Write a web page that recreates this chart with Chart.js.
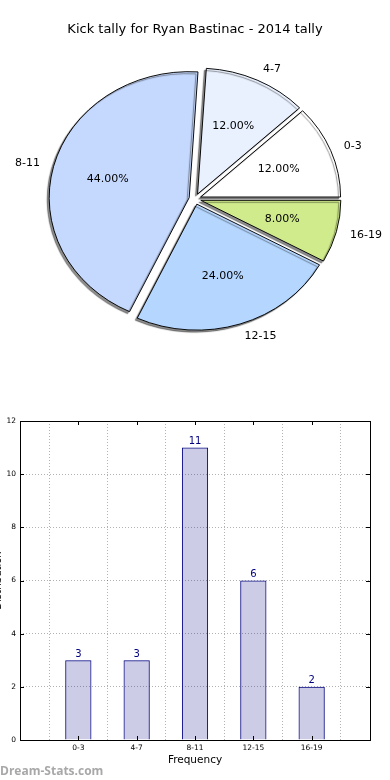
<!DOCTYPE html>
<html>
<head>
<meta charset="utf-8">
<script src="https://cdn.jsdelivr.net/npm/chart.js@4/dist/chart.umd.min.js"></script>
<style>
html, body { margin: 0; padding: 0; background: #fff; overflow: hidden; width: 390px; height: 780px; }
#pie { position: absolute; left: 0; top: 0; }
#bars { position: absolute; left: -10px; top: 400px; }
#mark { position: absolute; left: 0; top: 762px; font: bold 12px "Open Sans"; color: #a8a8a8; }
</style>
</head>
<body>
<canvas id="pie" width="390" height="400"></canvas>
<canvas id="bars" width="400" height="380"></canvas>
<div id="mark">Dream-Stats.com</div>
<script>
// data
const chartTitle = 'Kick tally for Ryan Bastinac - 2014 tally';
const categories = ['0-3', '4-7', '8-11', '12-15', '16-19'];
const kicks = [3, 3, 11, 6, 2];
const yTicks = [0, 2, 4, 6, 8, 10, 12];
const xTitle = 'Frequency';
const yTitle = 'Distribution';

// styles
const sliceColors = ['#ffffff', '#eaf1fe', '#c5d8fd', '#b5d6fe', '#d0eb8c'];
const EXPLODE = 6, SQUASH = 0.9;

Chart.defaults.font.family = '"DejaVu Sans", sans-serif';
Chart.defaults.color = '#000';

const total = kicks.reduce((a, b) => a + b, 0);
// matplotlib goes counter clockwise from 3 o'clock, chart.js clockwise -> reverse
const pieLabels = categories.slice().reverse();
const pieValues = kicks.slice().reverse();
const pieColors = sliceColors.slice().reverse();

const pieLook = {
  id: 'pieLook',
  afterUpdate(chart) {
    chart.getDatasetMeta(0).data.forEach(arc => {
      const mid = (arc.startAngle + arc.endAngle) / 2;
      arc.x += Math.cos(mid) * EXPLODE;
      arc.y += Math.sin(mid) * EXPLODE;
    });
  },
  beforeDatasetsDraw(chart) {
    const ctx = chart.ctx, a = chart.chartArea;
    const cx = (a.left + a.right) / 2, cy = (a.top + a.bottom) / 2;
    ctx.save();
    ctx.translate(cx, cy);
    ctx.scale(1, SQUASH);
    ctx.translate(-cx, -cy);
    ctx.shadowColor = 'rgba(0,0,0,0.45)';
    ctx.shadowOffsetX = -2;
    ctx.shadowOffsetY = 2;
    ctx.shadowBlur = 1;
  },
  afterDatasetsDraw(chart) {
    chart.ctx.restore();
  },
  afterDraw(chart) {
    const ctx = chart.ctx, a = chart.chartArea;
    const cy = (a.top + a.bottom) / 2;
    ctx.save();
    ctx.fillStyle = '#000';
    ctx.textBaseline = 'middle';
    ctx.font = '13px "DejaVu Sans"';
    ctx.textAlign = 'center';
    ctx.fillText(chartTitle, 195, 30);
    ctx.font = '11px "DejaVu Sans"';
    chart.getDatasetMeta(0).data.forEach((arc, i) => {
      const mid = (arc.startAngle + arc.endAngle) / 2, R = arc.outerRadius;
      const c = Math.cos(mid), s = Math.sin(mid);
      const at = k => [arc.x + c * k * R, cy + (arc.y - cy + s * k * R) * SQUASH];
      let [x, y] = at(0.6);
      ctx.textAlign = 'center';
      ctx.fillText((pieValues[i] / total * 100).toFixed(2) + '%', x, y);
      [x, y] = at(1.1);
      ctx.textAlign = c > 0 ? 'left' : 'right';
      ctx.fillText(pieLabels[i], x, y);
    });
    ctx.restore();
  }
};

new Chart(document.getElementById('pie'), {
  type: 'pie',
  data: {
    labels: pieLabels,
    datasets: [{
      data: pieValues,
      backgroundColor: pieColors,
      borderColor: '#000',
      borderWidth: 1,
      radius: 140,
      clip: false
    }]
  },
  options: {
    responsive: false,
    animation: false,
    events: [],
    rotation: 90,
    layout: { padding: { top: 40, bottom: 42, left: 6, right: 6 } },
    plugins: { legend: { display: false }, tooltip: { enabled: false } }
  },
  plugins: [pieLook]
});

// box round the plot + inward ticks like matplotlib
const frame = {
  id: 'frame',
  afterDatasetsDraw(chart) {
    const ctx = chart.ctx, a = chart.chartArea;
    const xs = chart.scales.x, ys = chart.scales.y;
    ctx.save();
    ctx.strokeStyle = '#000';
    ctx.lineWidth = 1;
    ctx.strokeRect(Math.round(a.left) + 0.5, Math.round(a.top) + 0.5, Math.round(a.width), Math.round(a.height));
    ctx.beginPath();
    yTicks.forEach(v => {
      const y = Math.round(ys.getPixelForValue(v)) + 0.5;
      ctx.moveTo(a.left, y); ctx.lineTo(a.left + 4, y);
      ctx.moveTo(a.right, y); ctx.lineTo(a.right - 4, y);
    });
    categories.forEach((c, i) => {
      const x = Math.round(xs.getPixelForValue(i)) + 0.5;
      ctx.moveTo(x, a.bottom); ctx.lineTo(x, a.bottom - 4);
      ctx.moveTo(x, a.top); ctx.lineTo(x, a.top + 4);
    });
    ctx.stroke();
    ctx.restore();
  },
  afterDraw(chart) {
    const ctx = chart.ctx;
    ctx.save();
    ctx.fillStyle = '#000080';
    ctx.font = '10px "DejaVu Sans"';
    ctx.textAlign = 'center';
    ctx.textBaseline = 'alphabetic';
    chart.getDatasetMeta(0).data.forEach((bar, i) => {
      ctx.fillText(String(kicks[i]), bar.x, bar.y - 3.5);
    });
    ctx.restore();
  }
};

const gridStyle = { color: 'rgba(0,0,0,0.3)', drawTicks: false };

new Chart(document.getElementById('bars'), {
  type: 'bar',
  data: {
    datasets: [{
      data: kicks.map((v, i) => ({ x: i, y: v })),
      backgroundColor: 'rgba(0,0,128,0.2)',
      borderColor: '#000080',
      borderWidth: 1,
      barPercentage: 0.45,
      categoryPercentage: 1
    }]
  },
  options: {
    responsive: false,
    animation: false,
    events: [],
    layout: { padding: { left: 0, top: 21, right: 20, bottom: 0 } },
    plugins: { legend: { display: false }, tooltip: { enabled: false } },
    scales: {
      x: {
        type: 'linear',
        min: -1,
        max: 5,
        offset: false,
        grid: gridStyle,
        border: { display: false, dash: [1, 2] },
        ticks: {
          stepSize: 1,
          autoSkip: false,
          maxRotation: 0,
          padding: 4,
          font: { size: 7.5 },
          callback: v => categories[v] ?? ''
        },
        title: { display: true, text: xTitle, font: { size: 10.5 }, padding: { top: 0, bottom: 13 } },
        afterFit(s) { s.height = 40; }
      },
      y: {
        min: 0,
        max: 12,
        grid: gridStyle,
        border: { display: false, dash: [1, 2] },
        ticks: { stepSize: 2, padding: 4, font: { size: 7.5 } },
        title: { display: true, text: yTitle, font: { size: 10 }, padding: { top: 2, bottom: 0 } },
        afterFit(s) { s.width = 30; }
      }
    }
  },
  plugins: [frame]
});
</script>
</body>
</html>
